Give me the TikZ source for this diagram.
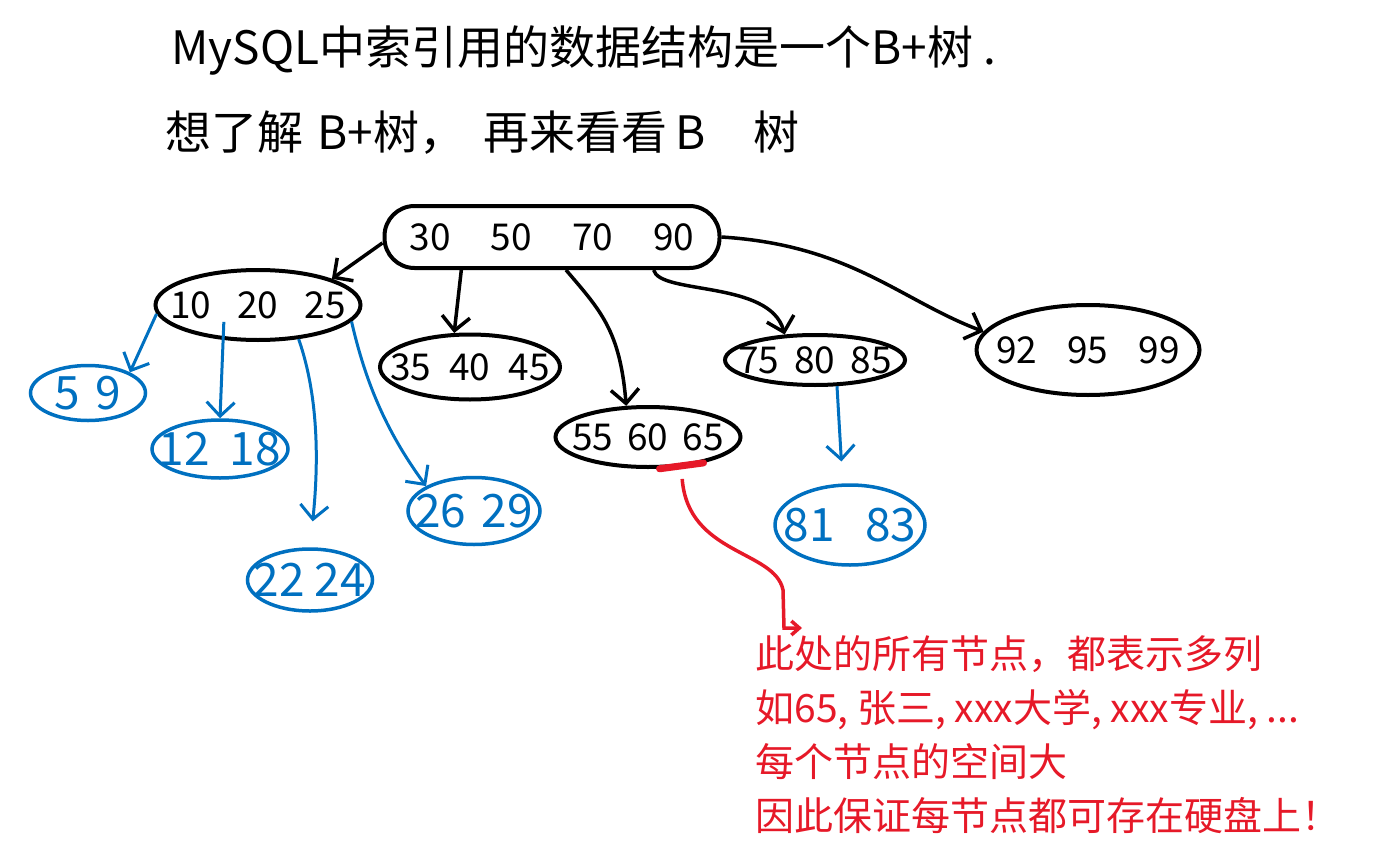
\documentclass[tikz,border=0pt]{standalone}
\usepackage{fontspec}
\newfontfamily\cjk{Noto Sans CJK SC}
\usepackage{xcolor}
\usetikzlibrary{shapes.geometric, arrows.meta, calc}
\definecolor{leafblue}{RGB}{0,112,192}
\definecolor{notered}{RGB}{230,25,40}

\begin{document}
\begin{tikzpicture}[x=1pt, y=-1pt,
    knode/.style={draw, line width=4pt, ellipse, inner sep=0pt},
    leafnode/.style={draw=leafblue, line width=3.5pt, ellipse, inner sep=0pt},
    keys/.style={font=\cjk\fontsize{37}{42}\selectfont},
    leafkeys/.style={font=\cjk\fontsize{46}{52}\selectfont, text=leafblue},
    link/.style={line width=3.5pt, -{Straight Barb[length=14pt,width=28pt]}},
    leaflink/.style={link, line width=3pt, draw=leafblue},
    title/.style={font=\cjk\fontsize{46}{54}\selectfont, anchor=west},
    note/.style={font=\cjk\fontsize{39}{54}\selectfont, text=notered, align=left, anchor=north west}]
    \useasboundingbox (0,0) rectangle (1396,853);

    % Title
    \node[title] (head) at (168,50) {MySQL中索引用的数据结构是一个B+树~.};
    \node[title] (sub) at (162,133) {想了解\hspace{14pt}B+树，\hspace{18pt}再来看看\hspace{8pt}B\hspace{48pt}树};

    % Root
    \node[knode, rectangle, rounded corners=30pt, minimum width=335pt, minimum height=62pt,
        label={[keys]center:30\hspace{40pt}50\hspace{40pt}70\hspace{40pt}90}] (root) at (552,237) {};

    % Second level
    \node[knode, minimum width=205pt, minimum height=70pt,
        label={[keys]center:10\hspace{26pt}20\hspace{26pt}25}] (n10) at (258,305) {};
    \node[knode, minimum width=180pt, minimum height=65pt,
        label={[keys]center:35\hspace{18pt}40\hspace{18pt}45}] (n35) at (470,367) {};
    \node[knode, minimum width=185pt, minimum height=60pt,
        label={[keys]center:55\hspace{14pt}60\hspace{14pt}65}] (n55) at (648,437) {};
    \node[knode, minimum width=180pt, minimum height=50pt,
        label={[keys]center:75\hspace{15pt}80\hspace{15pt}85}] (n75) at (815,360) {};
    \node[knode, minimum width=223pt, minimum height=90pt,
        label={[keys]center:92\hspace{30pt}95\hspace{30pt}99}] (n92) at (1088,350) {};

    % Leaves
    \node[leafnode, minimum width=115pt, minimum height=55pt,
        label={[leafkeys]center:5\hspace{16pt}9}] (n5) at (88,393) {};
    \node[leafnode, minimum width=136pt, minimum height=58pt,
        label={[leafkeys]center:12\hspace{20pt}18}] (n12) at (220,449) {};
    \node[leafnode, minimum width=125pt, minimum height=62pt,
        label={[leafkeys]center:22\hspace{10pt}24}] (n22) at (310,580) {};
    \node[leafnode, minimum width=132pt, minimum height=67pt,
        label={[leafkeys]center:26\hspace{15pt}29}] (n26) at (474,511) {};
    \node[leafnode, minimum width=150pt, minimum height=80pt,
        label={[leafkeys]center:81\hspace{30pt}83}] (n81) at (850,525) {};

    % Links from the root
    \draw[link] (root.182) -- (n10.north east);
    \draw[link] (root.200) -- (n35.115);
    \draw[link] (root.293) .. controls (600,310) and (620,330) .. (n55.125);
    \draw[link] (root.342) .. controls (660,295) and (770,280) .. (n75.140);
    \draw[link] (root.east) .. controls (850,245) and (900,300) .. (n92.170);

    % Links to the leaves
    \draw[leaflink] (n10.185) -- (n5.north east);
    \draw[leaflink, shorten <=-18pt] (n10.225) -- (n12.north);
    \draw[leaflink, shorten >=26pt] (n10.320) .. controls (320,400) and (318,470) .. (n22.north);
    \draw[leaflink] (n10.350) .. controls (365,380) and (385,430) .. (n26.north west);
    \draw[leaflink, shorten >=22pt] (n75.310) -- (n81.100);

    % Note on 65
    \draw[notered, line width=7pt, line cap=round] (n55.290) -- (n55.335);
    \coordinate (tip) at (802,628);
    \draw[notered, line width=3.5pt, shorten <=12pt, -{Straight Barb[length=8pt,width=14pt]}]
        (n55.318) .. controls (688,555) and (775,550) .. (783,590) -- (784,628) -- (tip);
    \node[note] (note) at (752,632) {此处的所有节点，都表示多列\\
        如65, 张三, xxx大学, xxx专业, ...\\
        每个节点的空间大\\
        因此保证每节点都可存在硬盘上！};
\end{tikzpicture}
\end{document}
